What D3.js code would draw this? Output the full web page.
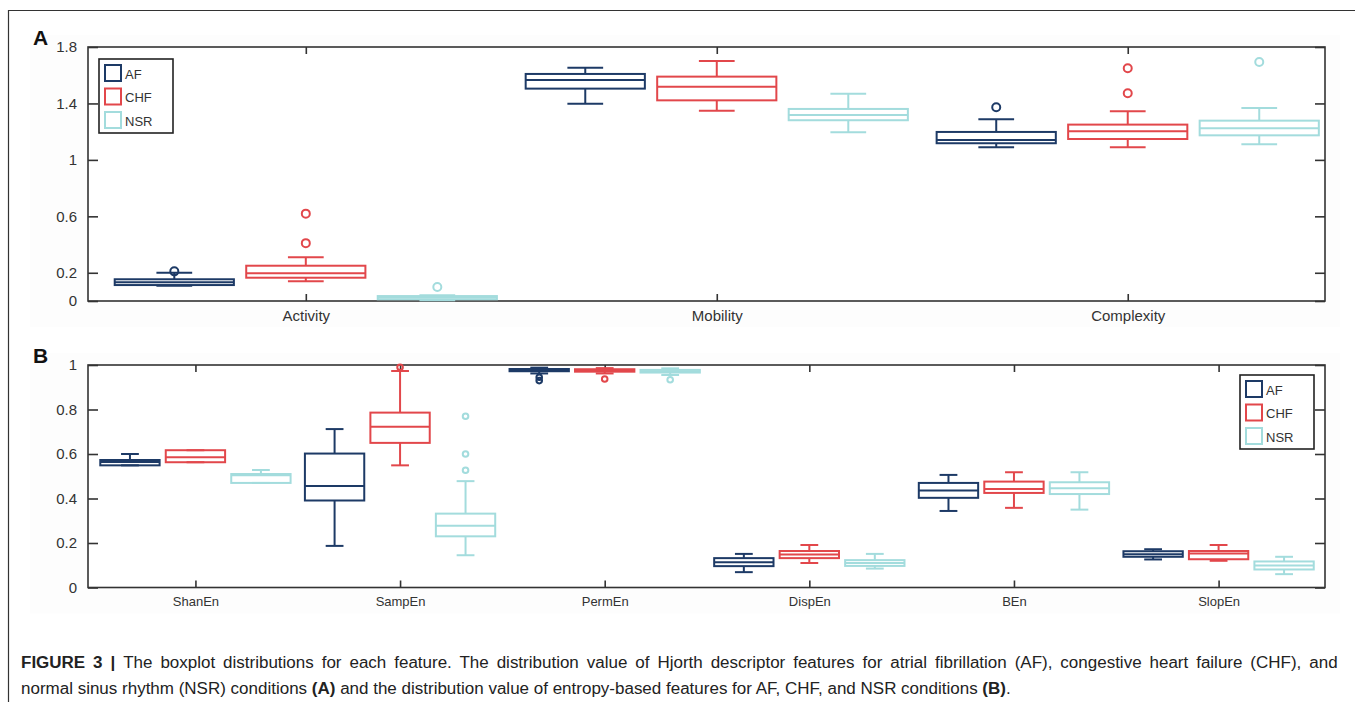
<!DOCTYPE html>
<html lang="en">
<head>
<meta charset="UTF-8">
<title>Boxplots</title>
<script src="https://d3js.org/d3.v7.min.js"></script>
<style>
    body { margin: 0; background: #fff; }
    svg { display: block; font-family: "Liberation Sans", Arial, sans-serif; }
    .tick text { fill: #333; }
</style>
</head>
<body>
<script>
    // classes and colours
    var classes = ["AF", "CHF", "NSR"];
    var colors = ["#1d3a66", "#e2474b", "#a3dcdd"];

    // panel A: Hjorth descriptors
    var groupsA = ["Activity", "Mobility", "Complexity"];
    var ticksA = [0, 0.2, 0.6, 1, 1.4, 1.8];
    // [whisker low, q1, median, q3, whisker high]
    var afA  = [[0.108, 0.113, 0.132, 0.154, 0.20], [1.398, 1.505, 1.566, 1.609, 1.653], [1.089, 1.118, 1.141, 1.198, 1.288]];
    var chfA = [[0.14, 0.165, 0.196, 0.25, 0.31], [1.349, 1.422, 1.519, 1.59, 1.70], [1.089, 1.148, 1.203, 1.25, 1.344]];
    var nsrA = [[0.005, 0.012, 0.025, 0.035, 0.04], [1.196, 1.281, 1.318, 1.361, 1.469], [1.11, 1.174, 1.224, 1.278, 1.368]];
    var afOutA  = [[0.21], [], [1.373]];
    var chfOutA = [[0.41, 0.619], [], [1.472, 1.649]];
    var nsrOutA = [[0.099], [], [1.694]];

    // panel B: entropy features
    var groupsB = ["ShanEn", "SampEn", "PermEn", "DispEn", "BEn", "SlopEn"];
    var ticksB = [0, 0.2, 0.4, 0.6, 0.8, 1];
    var afB  = [[0.549, 0.549, 0.564, 0.573, 0.60], [0.187, 0.391, 0.456, 0.602, 0.712], [0.962, 0.972, 0.978, 0.982, 0.988],
                [0.069, 0.096, 0.114, 0.132, 0.151], [0.344, 0.403, 0.436, 0.47, 0.506], [0.126, 0.138, 0.15, 0.163, 0.172]];
    var chfB = [[0.563, 0.563, 0.585, 0.617, 0.617], [0.549, 0.65, 0.723, 0.786, 0.973], [0.962, 0.970, 0.976, 0.981, 0.986],
                [0.11, 0.132, 0.148, 0.164, 0.191], [0.358, 0.425, 0.443, 0.476, 0.518], [0.12, 0.127, 0.153, 0.164, 0.191]];
    var nsrB = [[0.47, 0.47, 0.505, 0.51, 0.528], [0.145, 0.23, 0.278, 0.332, 0.478], [0.955, 0.966, 0.972, 0.978, 0.985],
                [0.085, 0.097, 0.11, 0.123, 0.151], [0.35, 0.42, 0.446, 0.473, 0.518], [0.06, 0.081, 0.099, 0.117, 0.138]];
    var afOutB  = [[], [], [0.945, 0.93], [], [], []];
    var chfOutB = [[], [0.99], [0.937], [], [], []];
    var nsrOutB = [[], [0.527, 0.60, 0.77], [0.934], [], [], []];

    var W = 1355, H = 702;
    var svg = d3.select("body").append("svg").attr("width", W).attr("height", H);

    // figure frame
    svg.append("line").attr("x1", 8.5).attr("x2", 8.5).attr("y1", 10).attr("y2", H).attr("stroke", "#333").attr("stroke-width", 1.2);
    svg.append("line").attr("x1", 8).attr("x2", W).attr("y1", 10.5).attr("y2", 10.5).attr("stroke", "#333").attr("stroke-width", 1.2);

    function panel(opt) {
        var left = 88, right = 1325;
        var x = d3.scaleLinear().domain(opt.xDomain).range([left, right]);
        var y = d3.scaleLinear().domain([0, opt.yMax]).range([opt.bottom, opt.top]);
        var g = svg.append("g");
        var idx = opt.groups.map(function (d, i) { return i + 1; });

        g.append("rect").attr("x", 30).attr("y", opt.top - 12).attr("width", 1310).attr("height", opt.bottom - opt.top + 38)
            .attr("fill", "#fdfdfd");
        g.append("rect").attr("x", left).attr("y", opt.top).attr("width", right - left).attr("height", opt.bottom - opt.top)
            .attr("fill", "#fff");

        g.append("text").attr("x", 33).attr("y", opt.top - 2).style("font-size", "21px").style("font-weight", "bold")
            .attr("fill", "#111").text(opt.label);

        var yl = g.append("g").attr("transform", "translate(" + left + ",0)")
            .call(d3.axisLeft(y).tickValues(opt.yTicks).tickSizeInner(-10).tickSizeOuter(0).tickPadding(11)
                .tickFormat(function (d) { return String(d); }));
        var yr = g.append("g").attr("transform", "translate(" + right + ",0)")
            .call(d3.axisRight(y).tickValues(opt.yTicks).tickSizeInner(-10).tickSizeOuter(0).tickFormat(""));
        var xb = g.append("g").attr("transform", "translate(0," + opt.bottom + ")")
            .call(d3.axisBottom(x).tickValues(idx).tickSizeInner(-7).tickSizeOuter(0).tickPadding(9)
                .tickFormat(function (d) { return opt.groups[d - 1]; }));
        var xt = g.append("g").attr("transform", "translate(0," + opt.top + ")")
            .call(d3.axisTop(x).tickValues(idx).tickSizeInner(-7).tickSizeOuter(0).tickFormat(""));
        [yl, yr, xb, xt].forEach(function (a) {
            a.select(".domain").remove();
            a.selectAll(".tick line").attr("stroke", "#333").attr("stroke-width", 1.6);
        });
        yl.selectAll(".tick text").style("font-size", "15px");
        xb.selectAll(".tick text").style("font-size", opt.catFont);

        g.append("rect").attr("x", left).attr("y", opt.top).attr("width", right - left).attr("height", opt.bottom - opt.top)
            .attr("fill", "none").attr("stroke", "#333").attr("stroke-width", 1.6);

        var off = 0.32, bw = 0.29;
        opt.stats.forEach(function (series, c) {
            var col = colors[c];
            series.forEach(function (s, i) {
                var cx = i + 1 + (c - 1) * off;
                var x0 = x(cx - bw / 2), x1 = x(cx + bw / 2);
                var c0 = x(cx - bw * 0.15), c1 = x(cx + bw * 0.15), xm = x(cx);
                var bg = g.append("g").attr("stroke", col).attr("stroke-width", 2).attr("fill", "none");
                // whiskers
                bg.append("line").attr("x1", xm).attr("x2", xm).attr("y1", y(s[3])).attr("y2", y(s[4]));
                bg.append("line").attr("x1", xm).attr("x2", xm).attr("y1", y(s[1])).attr("y2", y(s[0]));
                bg.append("line").attr("x1", c0).attr("x2", c1).attr("y1", y(s[4])).attr("y2", y(s[4]));
                bg.append("line").attr("x1", c0).attr("x2", c1).attr("y1", y(s[0])).attr("y2", y(s[0]));
                // box and median
                bg.append("rect").attr("x", x0).attr("y", y(s[3])).attr("width", x1 - x0)
                    .attr("height", Math.max(y(s[1]) - y(s[3]), 0.5));
                bg.append("line").attr("x1", x0).attr("x2", x1).attr("y1", y(s[2])).attr("y2", y(s[2]));
                // outliers
                opt.outliers[c][i].forEach(function (v) {
                    bg.append("circle").attr("cx", xm).attr("cy", y(v)).attr("r", opt.r);
                });
            });
        });

        // legend
        var lg = g.append("g").attr("transform", "translate(" + opt.legend[0] + "," + opt.legend[1] + ")");
        lg.append("rect").attr("width", 74).attr("height", 74).attr("fill", "#fff").attr("stroke", "#222").attr("stroke-width", 1.6);
        classes.forEach(function (k, i) {
            lg.append("rect").attr("x", 6).attr("y", 6 + i * 23.5).attr("width", 16).attr("height", 16)
                .attr("fill", "none").attr("stroke", colors[i]).attr("stroke-width", 2);
            lg.append("text").attr("x", 26).attr("y", 19.5 + i * 23.5).style("font-size", "13px").attr("fill", "#333").text(k);
        });
    }

    panel({
        label: "A", top: 47, bottom: 301, yMax: 1.8, yTicks: ticksA, xDomain: [0.47, 3.48],
        groups: groupsA, stats: [afA, chfA, nsrA], outliers: [afOutA, chfOutA, nsrOutA], r: 4,
        catFont: "15px", legend: [99, 59]
    });
    panel({
        label: "B", top: 365, bottom: 587.5, yMax: 1, yTicks: ticksB, xDomain: [0.475, 6.52],
        groups: groupsB, stats: [afB, chfB, nsrB], outliers: [afOutB, chfOutB, nsrOutB], r: 2.8,
        catFont: "13px", legend: [1240, 375]
    });

    // caption: condensed by a horizontal scale, first line justified to full width
    var capG = svg.append("g");
    var cap1 = capG.append("text").attr("x", 0).attr("y", 668).style("font-size", "16px").attr("fill", "#222");
    cap1.append("tspan").style("font-weight", "bold").text("FIGURE 3 | ");
    cap1.append("tspan").text("The boxplot distributions for each feature. The distribution value of Hjorth descriptor features for atrial fibrillation (AF), congestive heart failure (CHF), and");
    var cap2 = capG.append("text").attr("x", 0).attr("y", 694).style("font-size", "16px").attr("fill", "#222");
    cap2.append("tspan").text("normal sinus rhythm (NSR) conditions ");
    cap2.append("tspan").style("font-weight", "bold").text("(A)");
    cap2.append("tspan").text(" and the distribution value of entropy-based features for AF, CHF, and NSR conditions ");
    cap2.append("tspan").style("font-weight", "bold").text("(B)");
    cap2.append("tspan").text(".");

    var sx = 990 / cap2.node().getComputedTextLength();
    var len1 = cap1.node().getComputedTextLength();
    var spaces = cap1.text().split(" ").length - 1;
    cap1.style("word-spacing", Math.max(0, (1317 / sx - len1) / spaces) + "px");
    capG.attr("transform", "translate(21,0) scale(" + sx + ",1)");
</script>
</body>
</html>
